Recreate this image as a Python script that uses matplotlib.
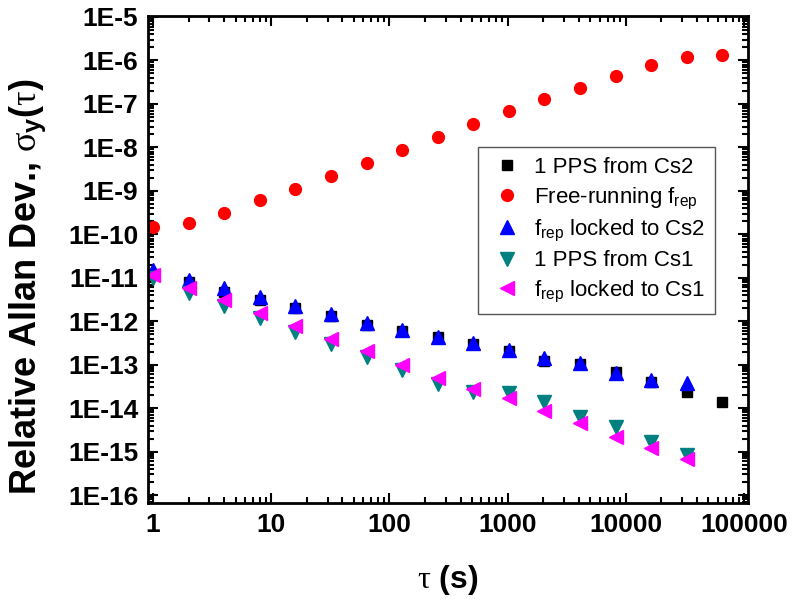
import numpy as np
import matplotlib
matplotlib.use("Agg")
import matplotlib.pyplot as plt
from matplotlib.ticker import LogLocator, FuncFormatter, NullFormatter

plt.rcParams['font.family'] = ['Liberation Sans', 'DejaVu Sans']
plt.rcParams['mathtext.fontset'] = 'custom'
plt.rcParams['mathtext.rm'] = 'Liberation Sans'
plt.rcParams['mathtext.it'] = 'Liberation Serif'
plt.rcParams['mathtext.bf'] = 'Liberation Sans:bold'

# Averaging times (s): 2^0 ... 2^16
tau = [2 ** n for n in range(17)]

# 1 PPS from Cs2
pps_cs2 = [1.2e-11, 8.1e-12, 4.8e-12, 3.1e-12, 2.0e-12, 1.32e-12, 8.2e-13, 6.0e-13,
           4.3e-13, 3.0e-13, 2.07e-13, 1.24e-13, 1.05e-13, 6.9e-14, 4.1e-14, 2.3e-14,
           1.41e-14]
# Free-running f_rep
free_running = [1.5e-10, 1.8e-10, 3.05e-10, 6.2e-10, 1.1e-9, 2.2e-9, 4.4e-9, 8.7e-9,
                1.76e-8, 3.46e-8, 6.8e-8, 1.28e-7, 2.33e-7, 4.3e-7, 7.9e-7, 1.22e-6,
                1.34e-6]
# f_rep locked to Cs2 (tau up to 2^15)
locked_cs2 = [1.51e-11, 8.9e-12, 5.7e-12, 3.6e-12, 2.25e-12, 1.43e-12, 9.3e-13, 6.3e-13,
              4.4e-13, 3.1e-13, 2.2e-13, 1.41e-13, 1.08e-13, 6.6e-14, 4.5e-14, 3.75e-14]
# 1 PPS from Cs1
pps_cs1 = [1.0e-11, 4.4e-12, 2.25e-12, 1.17e-12, 5.8e-13, 3.0e-13, 1.53e-13, 7.6e-14,
           3.6e-14, 2.4e-14, 2.2e-14, 1.41e-14, 6.2e-15, 3.6e-15, 1.67e-15, 8.4e-16]
# f_rep locked to Cs1
locked_cs1 = [1.16e-11, 5.7e-12, 3.1e-12, 1.53e-12, 7.8e-13, 3.95e-13, 2.07e-13, 9.9e-14,
              4.9e-14, 2.7e-14, 1.69e-14, 8.8e-15, 4.6e-15, 2.2e-15, 1.2e-15, 6.7e-16]

labels = ['1 PPS from Cs2',
          r'Free-running f$_{\mathregular{rep}}$',
          r'f$_{\mathregular{rep}}$ locked to Cs2',
          '1 PPS from Cs1',
          r'f$_{\mathregular{rep}}$ locked to Cs1']

fig = plt.figure(figsize=(7.96, 6.06), dpi=100)
ax = fig.add_axes([148 / 796, 1 - 503 / 606, 600 / 796, 487 / 606])

ax.plot(tau[:len(pps_cs2)], pps_cs2, 's', color='black', ms=7, mec='black', ls='none', label=labels[0])
ax.plot(tau[:len(free_running)], free_running, 'o', color='#FF0000', ms=8.5, mec='#FF0000', ls='none', label=labels[1])
ax.plot(tau[:len(locked_cs2)], locked_cs2, '^', color='#0000FF', ms=9.5, mec='#0000FF', ls='none', label=labels[2])
ax.plot(tau[:len(pps_cs1)], pps_cs1, 'v', color='#008080', ms=9.5, mec='#008080', ls='none', label=labels[3])
ax.plot(tau[:len(locked_cs1)], locked_cs1, '<', color='#FF00FF', ms=9.5, mec='#FF00FF', ls='none', label=labels[4])

ax.set_xscale('log')
ax.set_yscale('log')
ax.set_xlim(0.907, 1.08e5)
ax.set_ylim(6.6e-17, 1.05e-5)

ax.xaxis.set_major_locator(LogLocator(base=10, numticks=20))
ax.xaxis.set_minor_locator(LogLocator(base=10, subs=np.arange(2, 10), numticks=200))
ax.yaxis.set_major_locator(LogLocator(base=10, numticks=30))
ax.yaxis.set_minor_locator(LogLocator(base=10, subs=np.arange(2, 10), numticks=300))
ax.xaxis.set_major_formatter(FuncFormatter(lambda v, p: f'{int(round(v))}'))
ax.yaxis.set_major_formatter(FuncFormatter(lambda v, p: f'1E{int(round(np.log10(v)))}'))
ax.xaxis.set_minor_formatter(NullFormatter())
ax.yaxis.set_minor_formatter(NullFormatter())

ax.tick_params(which='both', direction='in', top=True, right=True, width=1.5)
ax.tick_params(which='major', length=7)
ax.tick_params(which='minor', length=4)
ax.tick_params(axis='both', which='major', labelsize=19, pad=7)
for lbl in ax.get_xticklabels() + ax.get_yticklabels():
    lbl.set_fontweight('bold')
for s in ax.spines.values():
    s.set_linewidth(2.0)

ax.set_xlabel(r'$\tau$ (s)', fontsize=23, fontweight='bold', labelpad=19)
fig.text(28 / 796, 1 - 287 / 606,
         r'Relative Allan Dev., $\sigma_\mathbf{y}\mathbf{(}\tau\mathbf{)}$',
         rotation=90, ha='center', va='center', fontsize=26, fontweight='bold')

leg = ax.legend(loc='upper left', bbox_to_anchor=(0.55, 0.731), fontsize=16,
                frameon=True, fancybox=False, edgecolor='#555555', framealpha=1,
                handletextpad=0.35, borderpad=0.45, labelspacing=0.32, handlelength=1.7,
                borderaxespad=0)
leg.get_frame().set_linewidth(1.0)

fig.savefig('out.png', dpi=100)
